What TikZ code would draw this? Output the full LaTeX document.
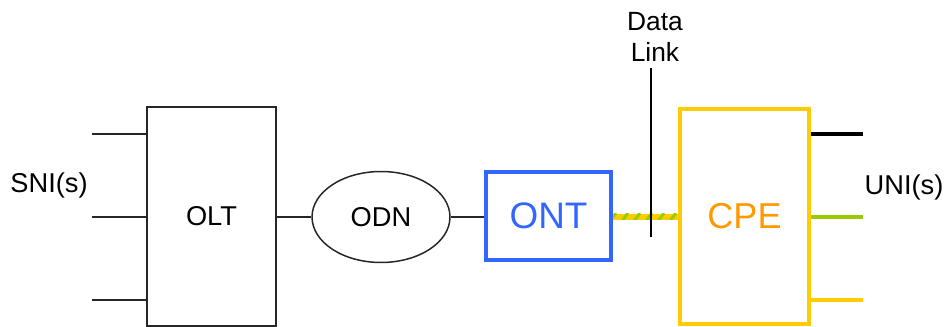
\documentclass[tikz,border=0pt]{standalone}
\usepackage{fontspec}
\setmainfont{Liberation Sans}
\usepackage{tikz}
\usetikzlibrary{shapes.geometric, positioning, calc}

\definecolor{ontblue}{RGB}{51,102,255}
\definecolor{cpeyellow}{RGB}{255,204,0}
\definecolor{cpeorange}{RGB}{255,153,0}
\definecolor{unigreen}{RGB}{153,204,0}

\begin{document}
\begin{tikzpicture}[
      x=0.02cm, y=-0.02cm,
      font=\fontsize{15.5}{17.6}\selectfont,
      thin line/.style = {line width=0.85pt, draw=black!85},
      % --- Estilos de Blocos ---
      oltbox/.style = {thin line, rectangle, minimum width=2.58cm, minimum height=4.38cm},
      odnshape/.style = {thin line, ellipse, minimum width=2.76cm, minimum height=1.82cm},
      ontbox/.style = {rectangle, draw=ontblue, line width=2.6pt, minimum width=2.5cm, minimum height=1.76cm,
                       text=ontblue, font=\fontsize{21}{24}\selectfont},
      cpebox/.style = {rectangle, draw=cpeyellow, line width=2.8pt, minimum width=2.58cm, minimum height=4.3cm,
                       text=cpeorange, font=\fontsize{20.5}{24}\selectfont},
      uniline/.style = {line width=2.8pt},
      stripe/.style = {draw=unigreen, line width=1.7pt}
    ]
      \useasboundingbox (0,0) rectangle (945,327);

      % --- Blocos ---
      \node [oltbox] (olt) at (211.5,216.5) {OLT};
      \node [odnshape] (odn) at (381,217) {ODN};
      \node [ontbox] (ont) at (548.5,216) {ONT};
      \node [cpebox] (cpe) at (744.5,216.5) {CPE};

      % --- SNI ---
      \node (sni) at (49,185) {SNI(s)};
      \foreach \y/\n in {134/1, 217/2, 300/3} {
        \coordinate (sni\n) at (92,\y);
        \draw [thin line] (sni\n) -- (sni\n -| olt.west);
      }

      % --- Conexoes ---
      \draw [thin line] (olt.east |- odn.west) -- (odn.west);
      \draw [thin line] (odn.east) -- (odn.east -| ont.west);

      % Data link (amarelo com listras verdes)
      \draw [draw=cpeyellow, line width=3.4pt] (ont.east |- 0,217) -- (cpe.west |- 0,217);
      \begin{scope}
        \clip ($(ont.east |- 0,217)+(0,-3)$) rectangle ($(cpe.west |- 0,217)+(0,3)$);
        \foreach \x in {598,610,...,690}
          \draw [stripe] (\x,221) -- ++(6,-8);
      \end{scope}

      \node [align=center, inner sep=2pt, font=\fontsize{15}{17.6}\selectfont] (dlabel) at (655,37) {Data\\Link};
      \coordinate (dlbot) at (651,237);
      \draw [line width=0.85pt] ($(dlabel.south -| dlbot)+(0,3)$) -- (dlbot);

      % --- UNI ---
      \node (uni) at (904,187) {UNI(s)};
      \foreach \y/\c/\n in {134/black/1, 217/unigreen/2, 300/cpeyellow/3} {
        \coordinate (uni\n) at (863,\y);
        \draw [uniline, draw=\c] (uni\n -| cpe.east) -- (uni\n);
      }

    \end{tikzpicture}
\end{document}
